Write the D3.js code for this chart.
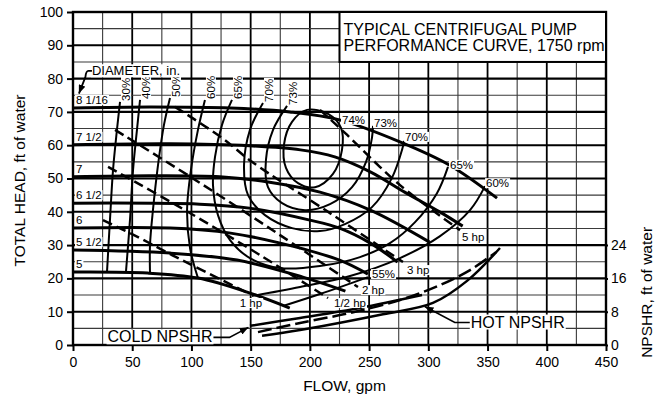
<!DOCTYPE html>
<html><head><meta charset="utf-8">
<script src="https://cdn.jsdelivr.net/npm/d3@7"></script>
<style>
html,body{margin:0;padding:0;background:#fff;}
svg{display:block;font-family:"Liberation Sans",Arial,Helvetica,sans-serif;}
</style></head><body>
<svg id="chart" width="665" height="401"></svg>
<script>
// ---- axis ticks ----
const flowTicks = [0, 50, 100, 150, 200, 250, 300, 350, 400, 450];
const headTicks = [0, 10, 20, 30, 40, 50, 60, 70, 80, 90, 100];
const npshrTicks = [0, 8, 16, 24];

// ---- head-capacity curves per impeller diameter, [gpm, ft] ----
const diameterNames = ["8 1/16", "7 1/2", "7", "6 1/2", "6", "5 1/2", "5"];
const headD8_1_16 = [[0,71.2],[65,71.5],[133,71.2],[183,70],[225,67.6],[276,61],[318,54],[358,44.1]];
const headD7_1_2  = [[0,60.1],[82,60.4],[149,59.8],[192,58.6],[221,56.5],[251,52],[280,45.9],[310,39.9],[329,35.7]];
const headD7      = [[0,50.5],[65,50.8],[124,50.5],[166,48.9],[208.5,45.9],[251,40.5],[301,30.9]];
const headD6_1_2  = [[0,42.6],[107,42.3],[149,41.1],[200,37.5],[225,35.1],[251,30.6],[274,24.9]];
const headD6      = [[0,35.1],[82,35.1],[133,33.6],[175,30.6],[225,25.5],[249,21.3]];
const headD5_1_2  = [[0,28.5],[82,27.6],[138.5,25.5],[194,20.4],[230,16.2]];
const headD5      = [[0,21.9],[63,21.6],[105.5,20.1],[147,15.9],[183,11.1]];

// ---- iso-efficiency contours, [gpm, ft] ----
const effLeftNames = ["30%", "40%", "50%", "60%", "65%", "70%", "73%"];
const eff30 = [[39.7,73],[37.1,64.6],[33.8,52.6],[31.2,37.5],[28.7,21.9]];
const eff40 = [[56.6,73.6],[54,64.6],[50.7,52.6],[48.1,37.5],[44.7,21.9]];
const eff50 = [[81.9,74.2],[76.8,66.1],[71.8,54.1],[67.5,40.5],[65,30],[65,21.9]];
const eff60 = [[111.4,73.6],[105.5,64.6],[99.6,52.6],[96.3,40.5],[98.8,29.1],[105.5,20.1]];
const eff60Right = [[151.1,14.7],[191.7,17.4],[233.9,20.7],[276.1,26.1],[309.9,32.7],[335.2,40.5],[347.9,47.7]];
const eff65 = [[134.2,73.6],[125.8,66.1],[119.9,56.5],[118.2,48],[122.4,39],[132.6,31.5],[149.4,26.1],[174.8,23.1],[208.5,23.7],[242.3,26.4],[267.6,30.6],[288.8,36.9],[307.3,45.6],[316.6,53.5]];
const eff70 = [[160.4,72.7],[149.4,64.6],[144.4,54.1],[147.8,45],[162.1,39],[184.9,35.1],[208.5,34.2],[229.6,36.3],[252.4,41.4],[269.3,50.2],[277.8,58.6],[279.5,61.3]];
const eff73 = [[180.7,71.8],[168.9,64.6],[162.9,55.6],[164.6,47.4],[176.5,42.6],[195.9,40.5],[217,42.3],[235.6,47.4],[247.4,55],[252.4,62.2],[253.3,65.8]];
const eff74 = [[197.6,70.6],[184.9,67],[178.1,60.1],[179.8,53.2],[190,48.6],[204.3,47.4],[219.5,51.4],[227.1,58.6],[226.3,65.2],[215.3,69.4]];
const eff55 = [[177.3,11.7],[208.5,15.3],[249.1,20.4]];

// ---- brake horsepower lines, [gpm, ft] ----
const hpNames = ["5 hp", "3 hp", "2 hp", "1/2 hp", "1 hp"];
const hp5    = [[208.5,70.6],[229.6,63.7],[276.1,48],[326.7,34.5]];
const hp3    = [[86.1,71.5],[125.8,62.2],[151.1,55],[217,39.6],[278.6,24.9]];
const hp2    = [[35.5,64.6],[100.5,50.2],[174.8,33],[240.6,17.4]];
const hpHalf = [[29.6,53.5],[88.7,41.7],[157.9,27],[215.3,14.1]];
const hp1    = [[25.3,37.5],[54.9,32.4],[83.6,27],[114,21.6],[149.4,15.3]];

// ---- NPSHR curves, [gpm, ft of NPSHR] ----
const npshrColdSolid  = [[149.4,4.6],[191.7,6.5],[242.3,8.9],[294.7,12]];
const npshrColdDashed = [[156.2,3.1],[191.7,5.3],[233.9,7.7],[276.1,10.8],[309.9,14.4],[335.2,18],[357.1,22.3]];
const npshrHot        = [[159.6,2.2],[191.7,3.6],[261.7,7.4],[303.9,10.1],[332.7,15.4],[360.5,23.3]];

// ---- layout ----
const svg = d3.select("#chart");
const x = d3.scaleLinear().domain([0, 450]).range([73, 606]);
const y = d3.scaleLinear().domain([0, 100]).range([345, 12]);
const yN = d3.scaleLinear().domain([0, 80]).range([345, 12]);

svg.append("rect").attr("width", 665).attr("height", 401).attr("fill", "#fff");

const defs = svg.append("defs");
defs.append("marker").attr("id", "arrow")
  .attr("viewBox", "0 0 10 8").attr("refX", 10).attr("refY", 4)
  .attr("markerWidth", 9).attr("markerHeight", 7)
  .attr("markerUnits", "userSpaceOnUse").attr("orient", "auto")
  .append("path").attr("d", "M0,0 L10,4 L0,8 Z").attr("fill", "#000");

// ---- grid ----
const grid = svg.append("g");
d3.range(0, 451, 25).forEach(q => {
  const major = q % 50 === 0;
  grid.append("line")
    .attr("x1", x(q)).attr("x2", x(q)).attr("y1", y(0)).attr("y2", y(100))
    .attr("stroke", major ? "#000" : "#3a3a3a").attr("stroke-width", major ? 1.8 : 1.1);
});
d3.range(0, 101, 5).forEach(h => {
  const major = h % 10 === 0;
  grid.append("line")
    .attr("x1", x(0)).attr("x2", x(450)).attr("y1", y(h)).attr("y2", y(h))
    .attr("stroke", major ? "#000" : "#3a3a3a").attr("stroke-width", major ? 2.1 : 1.1);
});

// ---- axes ----
function styleAxis(g, size) {
  g.select(".domain").remove();
  g.attr("font-family", null).attr("font-size", null);
  g.selectAll(".tick line").attr("stroke", "#000").attr("stroke-width", 2);
  g.selectAll(".tick text").attr("font-size", size).attr("fill", "#000");
}
svg.append("g").attr("transform", `translate(0,${y(0)})`)
  .call(d3.axisBottom(x).tickValues(flowTicks).tickSize(6).tickPadding(6))
  .call(g => styleAxis(g, 14));
svg.append("g").attr("transform", `translate(${x(0)},0)`)
  .call(d3.axisLeft(y).tickValues(headTicks).tickSize(6).tickPadding(4))
  .call(g => styleAxis(g, 14));
svg.append("g").attr("transform", `translate(${x(450)},0)`)
  .call(d3.axisRight(yN).tickValues(npshrTicks).tickSize(2).tickPadding(3))
  .call(g => styleAxis(g, 14));

// plot frame
svg.append("rect")
  .attr("x", x(0)).attr("y", y(100))
  .attr("width", x(450) - x(0)).attr("height", y(0) - y(100))
  .attr("fill", "none").attr("stroke", "#000").attr("stroke-width", 2.4);

// axis titles
svg.append("text").attr("x", (x(0) + x(450)) / 2 + 5).attr("y", 391)
  .attr("text-anchor", "middle").attr("font-size", 15.5).text("FLOW, gpm");
svg.append("text").attr("transform", `translate(25,${(y(0) + y(100)) / 2 + 2}) rotate(-90)`)
  .attr("text-anchor", "middle").attr("font-size", 15.5).text("TOTAL HEAD, ft of water");
svg.append("text").attr("transform", `translate(652,${yN(16) + 14}) rotate(-90)`)
  .attr("text-anchor", "middle").attr("font-size", 15.5).text("NPSHR, ft of water");

// ---- title box ----
svg.append("rect")
  .attr("x", x(225)).attr("y", y(100))
  .attr("width", x(450) - x(225)).attr("height", y(85) - y(100))
  .attr("fill", "#fff").attr("stroke", "#000").attr("stroke-width", 2);
svg.append("text").attr("x", x(225) + 4).attr("y", y(100) + 23)
  .attr("font-size", 16).text("TYPICAL CENTRIFUGAL PUMP");
svg.append("text").attr("x", x(225) + 4).attr("y", y(100) + 39)
  .attr("font-size", 16).text("PERFORMANCE CURVE, 1750 rpm");

// ---- curves ----
const plot = svg.append("g").attr("fill", "none").attr("stroke", "#000")
  .attr("stroke-linecap", "butt").attr("stroke-linejoin", "round");
const smooth = d3.curveCatmullRom.alpha(0.5);
const lineH = d3.line().x(d => x(d[0])).y(d => y(d[1])).curve(smooth);
const lineN = d3.line().x(d => x(d[0])).y(d => yN(d[1])).curve(smooth);
const loopH = d3.line().x(d => x(d[0])).y(d => y(d[1])).curve(d3.curveCatmullRomClosed.alpha(0.5));

const effLeft = [eff30, eff40, eff50, eff60, eff65, eff70, eff73];
[...effLeft, eff60Right, eff55].forEach(c =>
  plot.append("path").attr("d", lineH(c)).attr("stroke-width", 2));
plot.append("path").attr("d", loopH(eff74)).attr("stroke-width", 2);

const hpLines = [hp5, hp3, hp2, hpHalf, hp1];
hpLines.forEach(c =>
  plot.append("path").attr("d", lineH(c)).attr("stroke-width", 2.5).attr("stroke-dasharray", "10,5"));

const headCurves = [headD8_1_16, headD7_1_2, headD7, headD6_1_2, headD6, headD5_1_2, headD5];
headCurves.forEach(c =>
  plot.append("path").attr("d", lineH(c)).attr("stroke-width", 3));

plot.append("path").attr("d", lineN(npshrColdSolid)).attr("stroke-width", 2.5);
plot.append("path").attr("d", lineN(npshrColdDashed)).attr("stroke-width", 2.5).attr("stroke-dasharray", "14,5");
plot.append("path").attr("d", lineN(npshrHot)).attr("stroke-width", 2.5);

// ---- labels ----
const labels = svg.append("g");
function addLabel(str, px, py, opt = {}) {
  const { size = 11, anchor = "start", rotate = 0, pad = 1 } = opt;
  const g = labels.append("g").attr("transform", `translate(${px},${py}) rotate(${rotate})`);
  const r = g.append("rect").attr("fill", "#fff");
  const t = g.append("text").attr("font-size", size).attr("text-anchor", anchor).text(str);
  const b = t.node().getBBox();
  r.attr("x", b.x - pad).attr("y", b.y + 1).attr("width", b.width + 2 * pad).attr("height", b.height - 2);
  return g;
}

// diameter labels at the shut-off end of each curve
headCurves.forEach((c, i) => addLabel(diameterNames[i], x(c[0][0]) + 3, y(c[0][1]) - 4, { size: 11.5 }));

// left branches of the efficiency contours, rotated labels above each line
effLeft.forEach((c, i) => addLabel(effLeftNames[i], x(c[0][0]) + 10, y(c[0][1]) - 1, { rotate: -90, size: 11.5 }));

// right branch labels
const endOf = c => c[c.length - 1];
addLabel("74%", x(227.1), y(66.4), { size: 11.5 });
addLabel("73%", x(endOf(eff73)[0]) + 1, y(endOf(eff73)[1]) + 1, { size: 11.5 });
addLabel("70%", x(endOf(eff70)[0]) + 1, y(endOf(eff70)[1]) + 0, { size: 11.5 });
addLabel("65%", x(endOf(eff65)[0]) + 2, y(endOf(eff65)[1]) + 2, { size: 11.5 });
addLabel("60%", x(endOf(eff60Right)[0]) + 1, y(endOf(eff60Right)[1]) + 1, { size: 11.5 });
addLabel("55%", x(endOf(eff55)[0]) + 4, y(endOf(eff55)[1]) + 1, { size: 11.5 });

// horsepower labels
const hpOffsets = [[2, 11], [4, 12], [4, 7], [6, 9], [1, 13]];
hpLines.forEach((c, i) => {
  const e = endOf(c);
  addLabel(hpNames[i], x(e[0]) + hpOffsets[i][0], y(e[1]) + hpOffsets[i][1],
    { anchor: i === 4 ? "middle" : "start", size: 11.5 });
});

// DIAMETER, in. callout
const dTip = [x(5), y(75.5)];
addLabel("DIAMETER, in.", x(16), y(81), { size: 13 });
svg.append("path")
  .attr("d", `M${x(16)},${y(82.3)} H${x(13)} Q${x(11)},${y(82.3)} ${x(10.5)},${y(80.5)} L${dTip[0]},${dTip[1]}`)
  .attr("fill", "none").attr("stroke", "#000").attr("stroke-width", 1.8)
  .attr("marker-end", "url(#arrow)");

// COLD NPSHR callout
const cTip = [x(npshrColdSolid[0][0]) - 1.5, yN(npshrColdSolid[0][1]) + 1.5];
addLabel("COLD NPSHR", cTip[0] - 36, cTip[1] + 15, { size: 16, anchor: "end" });
svg.append("path")
  .attr("d", `M${cTip[0] - 35},${cTip[1] + 10} H${cTip[0] - 19} L${cTip[0]},${cTip[1]}`)
  .attr("fill", "none").attr("stroke", "#000").attr("stroke-width", 1.6)
  .attr("marker-end", "url(#arrow)");

// HOT NPSHR callout
const hTip = [x(297), yN(9.6) + 1.5];
addLabel("HOT NPSHR", hTip[0] + 46, hTip[1] + 21, { size: 16 });
svg.append("path")
  .attr("d", `M${hTip[0] + 45},${hTip[1] + 16} H${hTip[0] + 30} L${hTip[0]},${hTip[1]}`)
  .attr("fill", "none").attr("stroke", "#000").attr("stroke-width", 1.6)
  .attr("marker-end", "url(#arrow)");
</script>
</body></html>
